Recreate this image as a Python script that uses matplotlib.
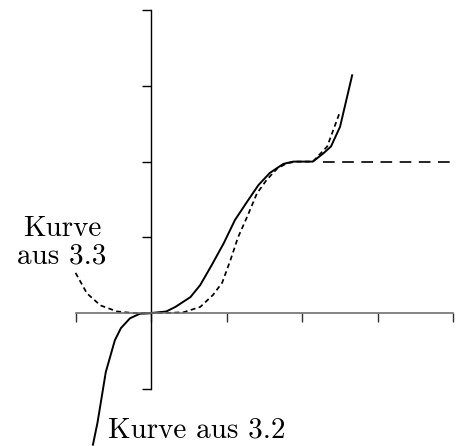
import matplotlib.pyplot as plt
import numpy as np

# Kurve aus 3.2 (durchgezogen)
x_32 = [-0.77, -0.71, -0.60, -0.48, -0.40, -0.28, -0.15, 0.0, 0.20, 0.32, 0.52, 0.65,
        0.80, 0.96, 1.11, 1.27, 1.42, 1.57, 1.75, 1.88, 2.14, 2.28, 2.38, 2.50, 2.66]
y_32 = [-1.74, -1.45, -0.78, -0.36, -0.20, -0.07, -0.01, 0.0, 0.02, 0.08, 0.21, 0.37,
        0.63, 0.92, 1.23, 1.47, 1.69, 1.85, 1.97, 2.0, 2.0, 2.11, 2.20, 2.46, 3.14]

# Kurve aus 3.3 (gestrichelt)
x_33 = [-1.0, -0.85, -0.67, -0.45, -0.24, 0.0, 0.20, 0.43, 0.65, 0.82, 0.94, 1.05,
        1.15, 1.27, 1.40, 1.53, 1.67, 1.80, 1.93, 2.14, 2.33, 2.50]
y_33 = [0.53, 0.26, 0.10, 0.02, 0.0, 0.0, 0.0, 0.01, 0.08, 0.24, 0.40, 0.70,
        1.00, 1.27, 1.58, 1.76, 1.91, 1.98, 2.0, 2.0, 2.20, 2.66]

# waagrechte Linie
x_h = [2.28, 3.96]
y_h = [2.0, 2.0]

ticks = [-1, 0, 1, 2, 3, 4]

fig = plt.figure(figsize=(4.63, 4.46), dpi=100)
ax = fig.add_axes([0, 0, 1, 1])
ax.set_xlim(-2.0, 4.127)
ax.set_ylim(-1.757, 4.135)

ax.plot(x_32, y_32, color='black', lw=1.4)
ax.plot(x_33, y_33, color='black', lw=1.25, dashes=(2.8, 2.0))
ax.plot(x_h, y_h, color='black', lw=1.2, dashes=(7, 4.5))

for s in ['top', 'right']:
    ax.spines[s].set_visible(False)
ax.spines['left'].set_position(('data', 0))
ax.spines['bottom'].set_position(('data', 0))
ax.spines['left'].set_bounds(-1, 4)
ax.spines['bottom'].set_bounds(-1, 4)
ax.spines['bottom'].set_color('#707070')
ax.spines['left'].set_linewidth(1.0)
ax.spines['bottom'].set_linewidth(1.2)

ax.set_xticks(ticks)
ax.set_yticks(ticks)
ax.set_xticklabels([])
ax.set_yticklabels([])
ax.tick_params(axis='x', direction='out', length=6.5, width=1.0, color='#303030')
ax.tick_params(axis='y', direction='out', length=6.5, width=1.0, color='black')

ax.text(-1.18, 0.93, 'Kurve\naus 3.3', family='cmr10', fontsize=21,
        ha='center', va='center', multialignment='center', linespacing=1.1)
ax.text(-0.57, -1.64, 'Kurve aus 3.2', family='cmr10', fontsize=21,
        ha='left', va='baseline')

fig.savefig('out.png', dpi=100)
